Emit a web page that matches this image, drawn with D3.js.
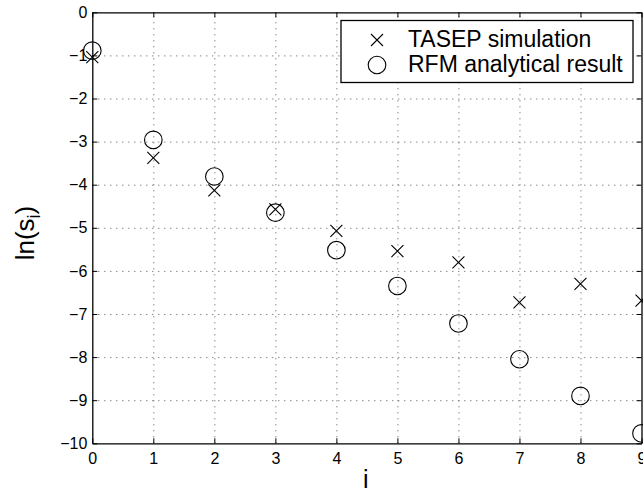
<!DOCTYPE html>
<html>
<head>
<meta charset="utf-8">
<script src="https://cdn.jsdelivr.net/npm/d3@7"></script>
<style>
  body { margin: 0; background: #fff; }
  svg { display: block; font-family: "Liberation Sans", Arial, sans-serif; }
  .grid line { stroke: #555; stroke-width: 1; stroke-dasharray: 1,5; }
  .grid .domain { display: none; }
</style>
</head>
<body>
<div id="chart"></div>
<script>
// data
var siteIdx = [0, 1, 2, 3, 4, 5, 6, 7, 8, 9];
var tasepVals = [-1.04, -3.38, -4.13, -4.57, -5.07, -5.54, -5.80, -6.73, -6.30, -6.69];
var rfmVals = [-0.89, -2.96, -3.81, -4.65, -5.52, -6.35, -7.22, -8.05, -8.90, -9.77];
var xTicks = [0, 1, 2, 3, 4, 5, 6, 7, 8, 9];
var yTicks = [0, -1, -2, -3, -4, -5, -6, -7, -8, -9, -10];
var legendLabels = ["TASEP simulation", "RFM analytical result"];

var svgWidth = 643, svgHeight = 494;
var padding = {"left": 92.3, "right": 1.5, "top": 12.3, "bottom": 50.7};

var svg = d3.select("#chart").append("svg")
	.attr("width", svgWidth)
	.attr("height", svgHeight);

var xScale = d3.scaleLinear().domain([0, 9]).range([padding.left, svgWidth - padding.right]);
var yScale = d3.scaleLinear().domain([-10, 0]).range([svgHeight - padding.bottom, padding.top]);

var plotW = svgWidth - padding.right - padding.left;
var plotH = svgHeight - padding.bottom - padding.top;

// dotted grid
svg.append("g").attr("class", "grid")
	.attr("transform", "translate(0," + (svgHeight - padding.bottom) + ")")
	.call(d3.axisBottom(xScale).tickValues(xTicks.slice(1, -1)).tickSize(-plotH).tickFormat(""));
svg.append("g").attr("class", "grid")
	.attr("transform", "translate(" + padding.left + ",0)")
	.call(d3.axisLeft(yScale).tickValues(yTicks.slice(1, -1)).tickSize(-plotW).tickFormat(""));

// axes with inward ticks
function styleAxis(g) {
	g.selectAll(".domain").attr("stroke", "#000").attr("stroke-width", 1.3);
	g.selectAll(".tick line").attr("stroke", "#000");
	g.selectAll("text").attr("font-size", 16).attr("fill", "#000").attr("font-family", "Liberation Sans, Arial, sans-serif");
}
svg.append("g")
	.attr("transform", "translate(0," + (svgHeight - padding.bottom) + ")")
	.call(d3.axisBottom(xScale).tickValues(xTicks).tickSizeInner(-5).tickSizeOuter(0).tickPadding(9).tickFormat(d3.format("d")))
	.call(styleAxis);
svg.append("g")
	.attr("transform", "translate(" + padding.left + ",0)")
	.call(d3.axisLeft(yScale).tickValues(yTicks).tickSizeInner(-5).tickSizeOuter(0).tickPadding(5).tickFormat(d3.format("d")))
	.call(styleAxis);
svg.append("g")
	.attr("transform", "translate(0," + padding.top + ")")
	.call(d3.axisTop(xScale).tickValues(xTicks).tickSizeInner(-5).tickSizeOuter(0).tickFormat(""))
	.call(styleAxis);
svg.append("g")
	.attr("transform", "translate(" + (svgWidth - padding.right) + ",0)")
	.call(d3.axisRight(yScale).tickValues(yTicks).tickSizeInner(-5).tickSizeOuter(0).tickFormat(""))
	.call(styleAxis);

// markers
function crossPath(cx, cy, s) {
	return "M" + (cx - s) + "," + (cy - s) + "L" + (cx + s) + "," + (cy + s) +
		"M" + (cx - s) + "," + (cy + s) + "L" + (cx + s) + "," + (cy - s);
}
svg.append("g").selectAll("path")
	.data(siteIdx)
	.enter()
	.append("path")
	.attr("d", function(d, i) { return crossPath(xScale(d), yScale(tasepVals[i]), 6); })
	.attr("stroke", "#000")
	.attr("stroke-width", 1.1)
	.attr("fill", "none");

svg.append("g").selectAll("circle")
	.data(siteIdx)
	.enter()
	.append("circle")
	.attr("cx", function(d) { return xScale(d); })
	.attr("cy", function(d, i) { return yScale(rfmVals[i]); })
	.attr("r", 8.8)
	.attr("stroke", "#000")
	.attr("stroke-width", 1.1)
	.attr("fill", "none");

// legend
var legend = svg.append("g");
legend.append("rect")
	.attr("x", 341).attr("y", 20.5)
	.attr("width", 292).attr("height", 62)
	.attr("fill", "#fff").attr("stroke", "#000").attr("stroke-width", 1.3);
legend.append("path")
	.attr("d", crossPath(377, 40, 6))
	.attr("stroke", "#000").attr("stroke-width", 1.1).attr("fill", "none");
legend.append("circle")
	.attr("cx", 377).attr("cy", 65).attr("r", 8.8)
	.attr("stroke", "#000").attr("stroke-width", 1.1).attr("fill", "none");
legend.selectAll("text")
	.data(legendLabels)
	.enter()
	.append("text")
	.attr("x", 408)
	.attr("y", function(d, i) { return 46.5 + i * 25; })
	.attr("font-size", 23)
	.text(function(d) { return d; });

// axis labels
svg.append("text")
	.attr("x", (padding.left + svgWidth - padding.right) / 2 - 1)
	.attr("y", 488)
	.attr("text-anchor", "middle")
	.attr("font-size", 25)
	.text("i");

var yLab = svg.append("text")
	.attr("transform", "translate(34,233) rotate(-90)")
	.attr("text-anchor", "middle")
	.attr("font-size", 26);
yLab.append("tspan").text("ln(s");
yLab.append("tspan").attr("font-size", 18).attr("dy", 6).text("i");
yLab.append("tspan").attr("dy", -6).text(")");
</script>
</body>
</html>
